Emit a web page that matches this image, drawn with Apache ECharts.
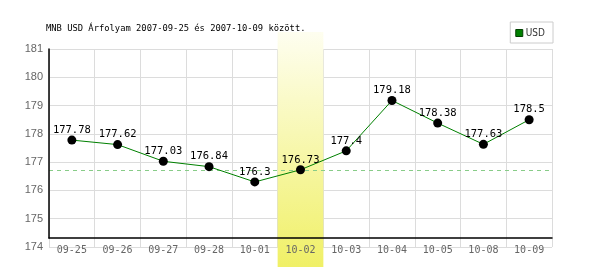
<!DOCTYPE html>
<html>
<head>
<meta charset="utf-8">
<script src="https://cdn.jsdelivr.net/npm/echarts@6/dist/echarts.min.js"></script>
<style>html,body{margin:0;padding:0;background:#fff}#c{width:600px;height:270px}</style>
</head>
<body>
<div id="c"></div>
<script>
const categories = ['09-25','09-26','09-27','09-28','10-01','10-02','10-03','10-04','10-05','10-08','10-09'];
const usdValues = [177.78,177.62,177.03,176.84,176.3,176.73,177.4,179.18,178.38,177.63,178.5];
const highlightCategory = '10-02';
const referenceValue = 176.73;
const yMin = 174, yMax = 181, yStep = 1;
const titleText = 'MNB USD Árfolyam 2007-09-25 és 2007-10-09 között.';
const seriesName = 'USD';

const bandData = categories.map(c => c === highlightCategory ? 1 : '-');

const chart = echarts.init(document.getElementById('c'), null, {renderer: 'canvas'});
chart.setOption({
  animation: false,
  backgroundColor: '#fff',
  title: {
    text: titleText, left: 41, top: 19,
    textStyle: {fontFamily: 'DejaVu Sans Mono', fontSize: 8.8, fontWeight: 'normal', color: '#000'}
  },
  legend: {
    data: [{name: seriesName, itemStyle: {color: '#008000', borderColor: '#004000', borderWidth: 1}}],
    right: 47, top: 22, orient: 'horizontal',
    borderColor: '#ccc', borderWidth: 1, padding: [6, 8, 5, 5],
    itemWidth: 7, itemHeight: 7, itemGap: 2, icon: 'rect',
    textStyle: {fontFamily: 'DejaVu Sans Condensed', fontSize: 10, color: '#333', padding: [0, 0, 0, -2]},
    selectedMode: false
  },
  grid: [
    {left: 49, right: 48, top: 49, bottom: 23},
    {left: 49, right: 48, top: 49, bottom: 32},
    {left: 49, right: 48, top: 32, bottom: 3}
  ],
  xAxis: [
    {gridIndex: 0, type: 'category', data: categories, boundaryGap: true,
     axisLine: {show: false}, axisTick: {show: false}, axisLabel: {show: false},
     splitLine: {show: true, lineStyle: {color: '#dcdcdc', width: 1}}},
    {gridIndex: 1, type: 'category', data: categories, boundaryGap: true, z: 6,
     axisLine: {show: true, lineStyle: {color: '#000', width: 1.5}}, axisTick: {show: false},
     axisLabel: {show: true, margin: 7, color: '#666', fontFamily: 'DejaVu Sans Mono', fontSize: 10, interval: 0},
     splitLine: {show: false}},
    {gridIndex: 2, type: 'category', data: categories, boundaryGap: true, show: false}
  ],
  yAxis: [
    {gridIndex: 0, type: 'value', min: yMin, max: yMax, interval: yStep,
     axisLine: {show: false}, axisTick: {show: false},
     axisLabel: {color: '#666', fontFamily: 'Liberation Sans', fontSize: 11, margin: 6},
     splitLine: {show: true, lineStyle: {color: '#dcdcdc', width: 1}}},
    {gridIndex: 1, type: 'value', min: 0, max: 1, z: 6,
     axisLine: {show: true, lineStyle: {color: '#000', width: 1.5}}, axisTick: {show: false},
     axisLabel: {show: false}, splitLine: {show: false}},
    {gridIndex: 2, type: 'value', min: 0, max: 1, show: false}
  ],
  series: [
    {
      type: 'line', xAxisIndex: 0, yAxisIndex: 0, data: [], z: 1, silent: true,
      markLine: {
        silent: true, symbol: 'none', label: {show: false},
        lineStyle: {color: '#88cc88', type: [4, 4], width: 1},
        data: [{yAxis: referenceValue}]
      }
    },
    {
      type: 'bar', xAxisIndex: 2, yAxisIndex: 2, data: bandData, z: 2, silent: true,
      barWidth: '100%',
      itemStyle: {color: new echarts.graphic.LinearGradient(0, 0, 0, 1, [
        {offset: 0, color: '#fefef0'}, {offset: 1, color: '#f0f066'}
      ])}
    },
    {
      name: seriesName, type: 'line', xAxisIndex: 0, yAxisIndex: 0, data: usdValues, z: 5,
      symbol: 'circle', symbolSize: 9,
      itemStyle: {color: '#000'},
      lineStyle: {color: '#008000', width: 1},
      label: {show: true, position: 'top', distance: 0, color: '#000',
              fontFamily: 'DejaVu Sans Mono', fontSize: 10.5},
      silent: true
    }
  ]
});
</script>
</body>
</html>
